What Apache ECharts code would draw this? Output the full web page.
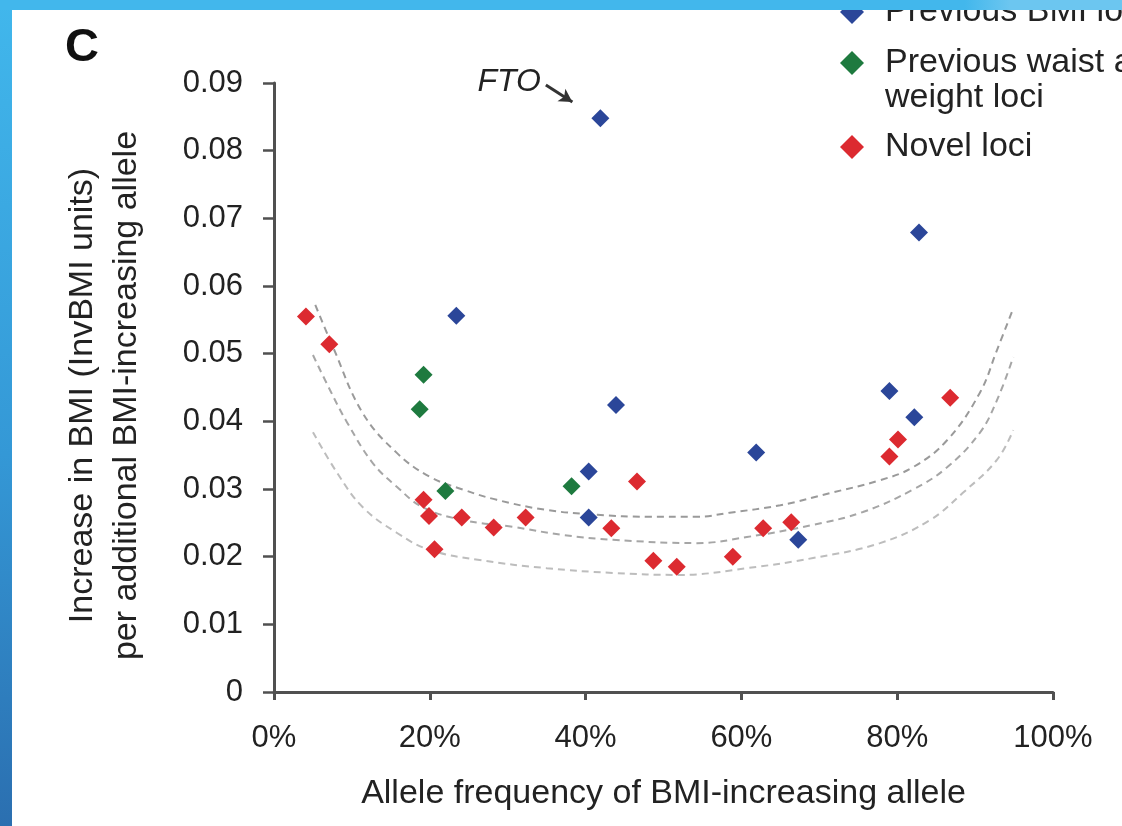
<!DOCTYPE html>
<html>
<head>
<meta charset="utf-8">
<script src="https://cdn.jsdelivr.net/npm/echarts@6/dist/echarts.min.js"></script>
<style>
  html, body { margin: 0; padding: 0; }
  body {
    width: 1122px; height: 826px; overflow: hidden; position: relative;
    background: linear-gradient(to bottom, #41b7ec 0%, #3498d6 55%, #2b6fb0 100%);
  }
  #topStrip {
    position: absolute; left: 0; top: 0; width: 1122px; height: 10px;
    background: linear-gradient(to right, #42b7ec 0%, #42b7ec 86%, #6cc6f0 90%, #6cc6f0 100%);
  }
  #chart {
    position: absolute; left: 12px; top: 10px; width: 1110px; height: 816px;
    background: #ffffff;
  }
</style>
</head>
<body>
<div id="topStrip"></div>
<div id="chart"></div>
<script>
// allele frequency (%) / increase in BMI per allele
var bmiLociX = [41.9, 82.8, 23.4, 43.9, 79.0, 82.2, 61.9, 40.4, 40.4, 67.3];
var bmiLociY = [0.0848, 0.0679, 0.0556, 0.0424, 0.0445, 0.0406, 0.0354, 0.0326, 0.0258, 0.0225];

var waistLociX = [19.2, 18.7, 22.0, 38.2];
var waistLociY = [0.0469, 0.0418, 0.0297, 0.0304];

var novelLociX = [4.1, 7.1, 19.2, 19.9, 20.6, 24.1, 28.2, 32.3, 46.6, 43.3, 48.7, 51.7, 58.9, 62.8, 66.4, 79.0, 80.1, 86.8];
var novelLociY = [0.0555, 0.0514, 0.0284, 0.0260, 0.0211, 0.0258, 0.0243, 0.0258, 0.0311, 0.0242, 0.0194, 0.0185, 0.0200, 0.0242, 0.0251, 0.0348, 0.0373, 0.0435];

// dashed power curves
var upperCurveX = [5.3, 7.6, 11.4, 15.8, 20.0, 24.3, 28.6, 35.0, 41.5, 47.9, 54.3, 58.5, 65.0, 71.4, 77.8, 82.0, 86.4, 90.6, 92.8, 94.9];
var upperCurveY = [0.0572, 0.0509, 0.0412, 0.0353, 0.0318, 0.0299, 0.0284, 0.0269, 0.0262, 0.0259, 0.0259, 0.0265, 0.0276, 0.0294, 0.0313, 0.0332, 0.0372, 0.0442, 0.0505, 0.0567];
var middleCurveX = [5.0, 7.2, 9.4, 12.7, 15.8, 19.1, 24.3, 30.7, 37.1, 43.5, 54.3, 60.7, 69.2, 75.6, 82.0, 86.4, 90.6, 92.8, 94.9];
var middleCurveY = [0.0498, 0.0446, 0.0398, 0.0338, 0.0303, 0.0273, 0.0254, 0.0244, 0.0232, 0.0225, 0.0220, 0.0229, 0.0247, 0.0266, 0.0299, 0.0332, 0.0383, 0.0431, 0.0495];
var lowerCurveX = [5.0, 8.1, 11.4, 15.8, 20.0, 26.4, 35.0, 43.5, 52.1, 60.7, 69.2, 77.8, 84.2, 88.4, 92.8, 94.9];
var lowerCurveY = [0.0384, 0.0324, 0.0273, 0.0235, 0.0210, 0.0195, 0.0183, 0.0176, 0.0173, 0.0183, 0.0198, 0.0220, 0.0254, 0.0294, 0.0343, 0.0387];

// FTO arrow (start, end) in data units
var ftoArrowX = [34.9, 38.3];
var ftoArrowY = [0.0897, 0.0872];

var seriesNames = ['Previous BMI loci', 'Previous waist and weight loci', 'Novel loci'];
// blank first line keeps "Previous waist..." level with its marker
var legendLabels = ['Previous BMI loci', ' \nPrevious waist and\nweight loci', 'Novel loci'];

function zip(xs, ys) {
    var out = [];
    for (var i = 0; i < xs.length; i++) out.push([xs[i], ys[i]]);
    return out;
}

var FONT = "'Liberation Sans', Arial, sans-serif";
var axisColor = '#505050';

function curve(xs, ys, color) {
    return {
        type: 'line',
        data: zip(xs, ys),
        smooth: 0.4,
        symbol: 'none',
        silent: true,
        z: 1,
        lineStyle: { color: color, width: 2, type: [7, 5] }
    };
}

function legendItem(idx, top) {
    return {
        orient: 'vertical',
        left: 828,
        top: top,
        padding: 0,
        itemWidth: 24,
        itemHeight: 24,
        icon: 'diamond',
        selectedMode: false,
        data: [{ name: seriesNames[idx] }],
        formatter: function () { return legendLabels[idx]; },
        textStyle: {
            fontFamily: FONT, fontSize: 34, lineHeight: 35, color: '#222',
            padding: [0, 0, 0, 16]
        }
    };
}

function scatter(idx, xs, ys, color) {
    return {
        name: seriesNames[idx],
        type: 'scatter',
        symbol: 'diamond',
        symbolSize: 18,
        z: 3,
        itemStyle: { color: color, opacity: 1 },
        data: zip(xs, ys)
    };
}

var chart = echarts.init(document.getElementById('chart'));

var bmiSeries = scatter(0, bmiLociX, bmiLociY, '#2b4699');
bmiSeries.markLine = {
    silent: true,
    animation: false,
    symbol: ['none', 'arrow'],
    symbolSize: [11, 13],
    lineStyle: { color: '#333', width: 3, type: 'solid' },
    label: {
        show: true,
        position: 'start',
        distance: 6,
        formatter: 'FTO',
        fontFamily: FONT, fontSize: 32, fontStyle: 'italic', color: '#222'
    },
    data: [[
        { coord: [ftoArrowX[0], ftoArrowY[0]] },
        { coord: [ftoArrowX[1], ftoArrowY[1]] }
    ]]
};

chart.setOption({
    animation: false,
    backgroundColor: '#ffffff',
    title: {
        text: 'C',
        left: 53,
        top: 15,
        padding: 0,
        textStyle: { fontFamily: FONT, fontSize: 47, fontWeight: 'bold', color: '#111' }
    },
    legend: [
        legendItem(0, -15.5),
        legendItem(1, 0.5),
        legendItem(2, 119.5)
    ],
    grid: { left: 262, right: 69, top: 73, bottom: 134 },
    xAxis: {
        type: 'value',
        min: 0, max: 100, interval: 20,
        name: 'Allele frequency of BMI-increasing allele',
        nameLocation: 'middle',
        nameGap: 85,
        nameTextStyle: { fontFamily: FONT, fontSize: 34, color: '#222' },
        axisLine: { show: true, lineStyle: { color: axisColor, width: 3 } },
        axisTick: { show: true, inside: false, length: 8, lineStyle: { color: axisColor, width: 3 } },
        axisLabel: {
            margin: 31,
            fontFamily: FONT, fontSize: 31, color: '#222',
            formatter: '{value}%'
        },
        splitLine: { show: false }
    },
    yAxis: {
        type: 'value',
        min: 0, max: 0.09, interval: 0.01,
        name: 'Increase in BMI (InvBMI units)\nper additional BMI-increasing allele',
        nameLocation: 'middle',
        nameRotate: 90,
        nameGap: 125,
        nameTextStyle: { fontFamily: FONT, fontSize: 34, lineHeight: 44, color: '#222', padding: [0, 16, 0, 0] },
        axisLine: { show: true, lineStyle: { color: axisColor, width: 3 } },
        axisTick: { show: true, inside: false, length: 11, lineStyle: { color: axisColor, width: 2.5 } },
        axisLabel: {
            margin: 31,
            fontFamily: FONT, fontSize: 31, color: '#222',
            formatter: function (v) { return v === 0 ? '0' : v.toFixed(2); }
        },
        splitLine: { show: false }
    },
    series: [
        curve(upperCurveX, upperCurveY, '#9a9a9a'),
        curve(middleCurveX, middleCurveY, '#a6a6a6'),
        curve(lowerCurveX, lowerCurveY, '#bdbdbd'),
        bmiSeries,
        scatter(1, waistLociX, waistLociY, '#1e7a3f'),
        scatter(2, novelLociX, novelLociY, '#dc2a30')
    ]
});
</script>
</body>
</html>
